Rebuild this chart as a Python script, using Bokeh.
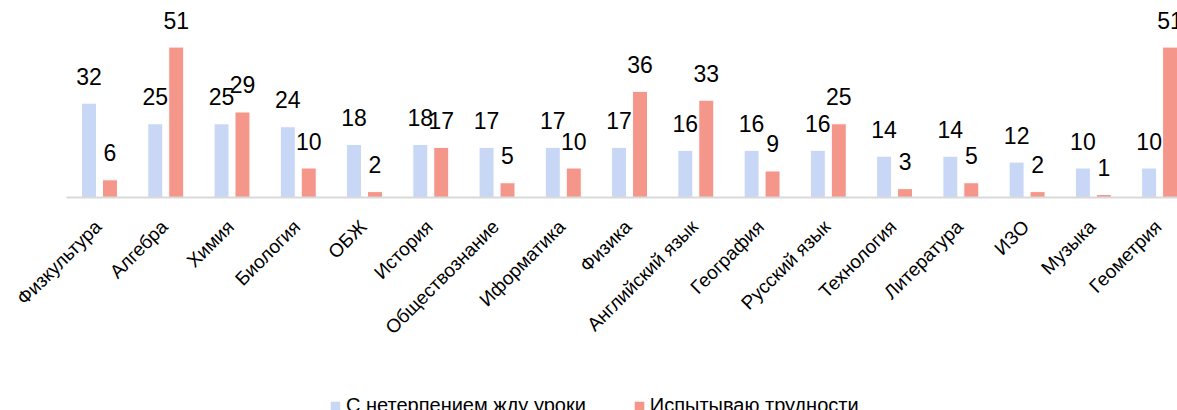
import math
from bokeh.plotting import figure
from bokeh.layouts import column
from bokeh.models import Range1d, FixedTicker, Legend, LegendItem, ColumnDataSource
from bokeh.core.properties import value
from bokeh.embed import file_html
from bokeh.resources import INLINE

subjects = ["Физкультура", "Алгебра", "Химия", "Биология", "ОБЖ", "История",
            "Обществознание", "Иформатика", "Физика", "Английский язык", "География",
            "Русский язык", "Технология", "Литература", "ИЗО", "Музыка", "Геометрия"]
eager = [32, 25, 25, 24, 18, 18, 17, 17, 17, 16, 16, 16, 14, 14, 12, 10, 10]
difficult = [6, 51, 29, 10, 2, 17, 5, 10, 36, 33, 9, 25, 3, 5, 2, 1, 51]
series_names = ["С нетерпением жду уроки", "Испытываю трудности"]

BLUE = "#C9D7F6"
RED = "#F5968A"
FONT = "Liberation Sans"

idx = list(range(len(subjects)))
off = 0.158
bw = 0.226
tick_shift = 0.02

src_b = ColumnDataSource(dict(x=[i - off for i in idx], top=eager, lab=[str(v) for v in eager]))
src_r = ColumnDataSource(dict(x=[i + off for i in idx], top=difficult, lab=[str(v) for v in difficult]))

p = figure(width=1177, height=384, output_backend="svg", toolbar_location=None,
           x_range=Range1d(-0.498, 16.27), y_range=Range1d(0, 66.8),
           min_border_left=66, min_border_right=0, min_border_top=0, min_border_bottom=187)
p.outline_line_color = None
p.xgrid.visible = False
p.ygrid.visible = False
p.yaxis.visible = False

rb = p.vbar(x="x", top="top", width=bw, source=src_b, fill_color=BLUE, line_color="white", line_width=1)
rr = p.vbar(x="x", top="top", width=bw, source=src_r, fill_color=RED, line_color="white", line_width=1)

for s in (src_b, src_r):
    p.text(x="x", y="top", text="lab", source=s, text_align="center", text_baseline="middle",
           y_offset=-27, text_font=value(FONT), text_font_size="23px", text_color="#000000")

ticks = [i - tick_shift for i in idx]
ax = p.xaxis[0]
ax.ticker = FixedTicker(ticks=ticks)
ax.major_label_overrides = {t: s for t, s in zip(ticks, subjects)}
ax.major_label_orientation = math.pi / 4
ax.major_label_text_font = FONT
ax.major_label_text_font_size = "19px"
ax.major_label_text_color = "#000000"
ax.major_label_standoff = 20
ax.major_tick_line_color = None
ax.minor_tick_line_color = None
ax.axis_line_color = "#D9D9D9"
ax.axis_line_width = 2

# legend strip below the chart (its swatch renderers lie outside its visible range)
pl = figure(width=1177, height=26, output_backend="svg", toolbar_location=None,
            x_axis_type=None, y_axis_type=None,
            x_range=Range1d(-0.498, 16.27), y_range=Range1d(100, 101),
            min_border=0, min_border_left=0, min_border_right=0, min_border_top=0, min_border_bottom=0)
pl.outline_line_color = None
pl.grid.visible = False
lb = pl.vbar(x="x", top="top", width=bw, source=src_b, fill_color=BLUE, line_color=None)
lr = pl.vbar(x="x", top="top", width=bw, source=src_r, fill_color=RED, line_color=None)
legend = Legend(items=[LegendItem(label=series_names[0], renderers=[lb]),
                       LegendItem(label=series_names[1], renderers=[lr])],
                orientation="horizontal", location=(263, -7),
                label_text_font=FONT, label_text_font_size="20px", label_text_color="#000000",
                glyph_width=12, glyph_height=12, label_standoff=5, spacing=47,
                padding=0, margin=0, border_line_color=None, background_fill_alpha=0)
pl.add_layout(legend, "center")

layout = column(p, pl, spacing=0)
open("out.html", "w").write(file_html(layout, INLINE))
